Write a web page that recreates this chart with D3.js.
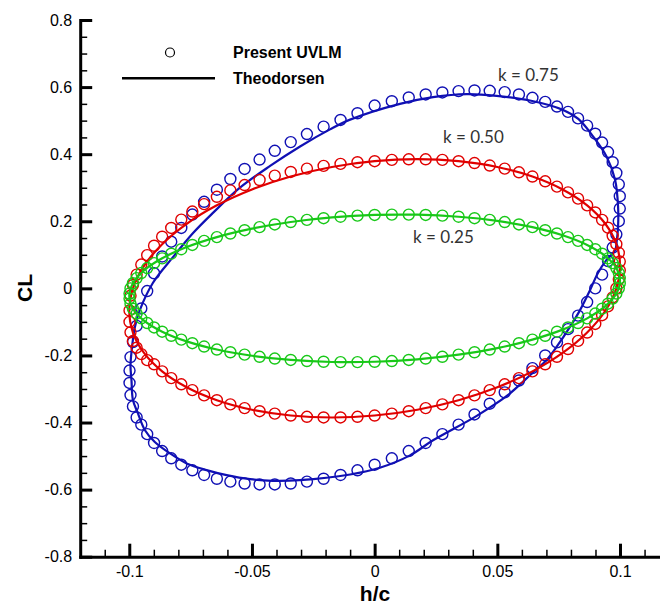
<!DOCTYPE html>
<html>
<head>
<meta charset="utf-8">
<script src="https://cdn.jsdelivr.net/npm/d3@7"></script>
<style>
  html, body { margin: 0; padding: 0; background: #fff; }
  svg { display: block; }
</style>
</head>
<body>
<svg id="chart" width="660" height="607"></svg>
<script>
// ---------------- DATA ----------------
const xTicks = [-0.1, -0.05, 0, 0.05, 0.1];
const xTickLabels = ["-0.1", "-0.05", "0", "0.05", "0.1"];
const yTicks = [-0.8, -0.6, -0.4, -0.2, 0, 0.2, 0.4, 0.6, 0.8];
const yTickLabels = ["-0.8", "-0.6", "-0.4", "-0.2", "0", "0.2", "0.4", "0.6", "0.8"];
const xMinorTicks = [-0.11, -0.09, -0.08, -0.07, -0.06, -0.04, -0.03, -0.02, -0.01, 0.01, 0.02, 0.03, 0.04, 0.06, 0.07, 0.08, 0.09, 0.11];
const yMinorTicks = [-0.75, -0.7, -0.65, -0.55, -0.5, -0.45, -0.35, -0.3, -0.25, -0.15, -0.1, -0.05, 0.05, 0.1, 0.15, 0.25, 0.3, 0.35, 0.45, 0.5, 0.55, 0.65, 0.7, 0.75];

const seriesNames = ["k = 0.75", "k = 0.50", "k = 0.25"];
const legendLabels = ["Present UVLM", "Theodorsen"];

// Present UVLM markers: h/c positions (shared by all three runs)
const markerH = [0, .0070, .0139, .0208, .0276, .0342, .0407, .0469, .0530, .0588, .0643, .0695, .0743, .0788, .0829, .0866, .0899, .0927, .0951, .0970, .0985, .0995, .0999, .0999, .0995, .0985, .0970, .0951, .0927, .0899, .0866, .0829, .0788, .0743, .0695, .0643, .0588, .0530, .0469, .0407, .0342, .0276, .0208, .0139, .0070,
  0, -.0070, -.0139, -.0208, -.0276, -.0342, -.0407, -.0469, -.0530, -.0588, -.0643, -.0695, -.0743, -.0788, -.0829, -.0866, -.0899, -.0927, -.0951, -.0970, -.0985, -.0995, -.0999, -.0999, -.0995, -.0985, -.0970, -.0951, -.0927, -.0899, -.0866, -.0829, -.0788, -.0743, -.0695, -.0643, -.0588, -.0530, -.0469, -.0407, -.0342, -.0276, -.0208, -.0139, -.0070];

const markerCL_k075 = [.545, .558, .569, .578, .584, .588, .590, .589, .585, .578, .568, .556,
  .542, .526, .5066, .4850, .4610, .4347, .4064, .3760, .3439, .3100, .2747, .2379, .2001, .1612, .1216, .0814, .0408,
  0,
  -.0408, -.0814, -.1216, -.1612, -.2001, -.2379, -.2747, -.3100, -.3439, -.3760, -.4064, -.4347, -.4610, -.4850, -.5066,
  -.5258, -.5424, -.5564, -.5676, -.5761, -.5818, -.5846, -.5846, -.5818, -.5761, -.5676, -.5564, -.5424, -.5258, -.5066, -.4850, -.4610, -.4347, -.4064,
  -.385, -.352, -.318, -.282, -.245, -.205, -.160, -.112, -.060, -.008, .045, .095, .139, .180, .220, .258, .294, .326, .356, .384, .410, .436, .460, .482, .502, .522];

const markerCL_k050 = [.3791, .3829, .3848, .3848, .3829, .3791, .3736, .3662, .3570, .3460, .3334, .3192, .3034, .2861, .2675, .2475, .2263, .2040, .1808, .1566, .1317, .1061, .0800, .0536, .0269, 0, -.0269, -.0536, -.0800, -.1061, -.1317, -.1566, -.1808, -.2040, -.2263, -.2475, -.2675, -.2861, -.3034, -.3192, -.3334, -.3460, -.3570, -.3662, -.3736,
  -.3791, -.3829, -.3848, -.3848, -.3829, -.3791, -.3736, -.3662, -.3570, -.3460, -.3334, -.3192, -.3034, -.2861, -.2675, -.2475, -.2263,
  -.214, -.196, -.177, -.157, -.131, -.100, -.066, -.022, .010, .041, .071, .099, .127, .154, .180, .205, .229, .251, .273, .292, .308, .323, .336, .347, .357, .365, .371, .376];

const markerCL_k025 = [.2188, .2199, .2199, .2188, .2167, .2135, .2092, .2040, .1977, .1905, .1824, .1734, .1635, .1528, .1414, .1293, .1166, .1033, .0895, .0752, .0606, .0457, .0306, .0154, 0, -.0154, -.0306, -.0457, -.0606, -.0752, -.0895, -.1033, -.1166, -.1293, -.1414, -.1528, -.1635, -.1734, -.1824, -.1905, -.1977, -.2040, -.2092, -.2135, -.2167,
  -.2188, -.2199, -.2199, -.2188, -.2167, -.2135, -.2092, -.2040, -.1977, -.1905, -.1824, -.1734, -.1635, -.1528, -.1414, -.1293, -.1166, -.1033, -.0895, -.0752, -.0606, -.0457, -.0306, -.0154, 0, .0154, .0306, .0457, .0606, .0752, .0895, .1033, .1166, .1293, .1414, .1528, .1635, .1734, .1824, .1905, .1977, .2040, .2092, .2135, .2167];

// Theodorsen curves
const theoH = [0, .0174, .0342, .05, .0643, .0766, .0866, .0940, .0985, .1, .0985, .0940, .0866, .0766, .0643, .05, .0342, .0174,
  0, -.0174, -.0342, -.05, -.0643, -.0766, -.0866, -.0940, -.0985, -.1, -.0985, -.0940, -.0866, -.0766, -.0643, -.05, -.0342, -.0174];
const theoCL_k050 = [.3791, .385, .3791, .3618, .3334, .2949, .2475, .1925, .1317, .0668, 0, -.0668, -.1317, -.1925, -.2475, -.2949, -.3334, -.3618,
  -.3791, -.385, -.3791, -.3618, -.3334, -.2949, -.2475, -.1925, -.1317, -.0668, 0, .0668, .1317, .1925, .2475, .2949, .3334, .3618];
const theoCL_k025 = [.2188, .2195, .2135, .2010, .1824, .1582, .1293, .0964, .0606, .0230, -.0154, -.0532, -.0895, -.1230, -.1528, -.1780, -.1977, -.2115,
  -.2188, -.2195, -.2135, -.2010, -.1824, -.1582, -.1293, -.0964, -.0606, -.0230, .0154, .0532, .0895, .1230, .1528, .1780, .1977, .2115];

const theoH_k075 = [-0.0991, -0.0995, -0.0991, -0.0977, -0.0957, -0.0904, -0.0822, -0.0740, -0.0659, -0.0549, -0.0426, -0.0304, -0.0182, -0.0100,
  0.0103, 0.0238, 0.0375, 0.0497, 0.0633, 0.0768, 0.0830, 0.0890, 0.0945, 0.0980, 0.0992, 0.0992, 0.0987, 0.0980,
  0.0945, 0.0910, 0.0878, 0.0837, 0.0796, 0.0742, 0.0700, 0.0646, 0.0540, 0.0416, 0.0238, 0.0144, 0.0021,
  -0.0100, -0.0305, -0.0415, -0.0508, -0.0603, -0.0685, -0.0766, -0.0834, -0.0896, -0.0936, -0.0965, -0.0985];
const theoCL_k075 = [-0.274, -0.232, -0.190, -0.115, -0.065, 0.016, 0.093, 0.165, 0.225, 0.300, 0.365, 0.423, 0.474, 0.503,
  0.550, 0.570, 0.579, 0.574, 0.560, 0.532, 0.505, 0.453, 0.393, 0.323, 0.244, 0.184, 0.144, 0.114,
  0.085, 0.046, -0.005, -0.065, -0.115, -0.174, -0.214, -0.250, -0.320, -0.380, -0.453, -0.498, -0.535,
  -0.555, -0.572, -0.574, -0.569, -0.557, -0.542, -0.522, -0.492, -0.458, -0.423, -0.372, -0.333];

const seriesColors = ["#1010b4", "#e00000", "#18c818"];

// ---------------- CHART ----------------
const series = [
  { name: seriesNames[0], color: seriesColors[0], lh: theoH_k075, lc: theoCL_k075, mh: markerH, mc: markerCL_k075 },
  { name: seriesNames[1], color: seriesColors[1], lh: theoH, lc: theoCL_k050, mh: markerH, mc: markerCL_k050 },
  { name: seriesNames[2], color: seriesColors[2], lh: theoH, lc: theoCL_k025, mh: markerH, mc: markerCL_k025 }
];

const svg = d3.select("#chart");
const x = d3.scaleLinear().domain([-0.12, 0.12]).range([80.2, 669.1]);
const y = d3.scaleLinear().domain([-0.8, 0.8]).range([556.7, 20]);
const font = "'Liberation Sans', Arial, Helvetica, sans-serif";

// axes
const gx = svg.append("g").attr("transform", `translate(0,${y(-0.8)})`);
gx.call(d3.axisBottom(x).tickValues(xMinorTicks).tickSize(-7).tickFormat(""))
  .call(g => g.select(".domain").remove())
  .call(g => g.selectAll("line").attr("stroke", "#000").attr("stroke-width", 1.5));
const gx2 = svg.append("g").attr("transform", `translate(0,${y(-0.8)})`);
gx2.call(d3.axisBottom(x).tickValues(xTicks).tickSize(-13).tickSizeOuter(0).tickPadding(9)
    .tickFormat((d, i) => xTickLabels[i]))
  .call(g => g.select(".domain").attr("stroke", "#000").attr("stroke-width", 3).attr("stroke-linecap", "square"))
  .call(g => g.selectAll(".tick line").attr("stroke", "#000").attr("stroke-width", 3))
  .call(g => g.selectAll("text").attr("font-family", font).attr("font-size", 16).attr("fill", "#000"));

const gy = svg.append("g").attr("transform", `translate(${x(-0.12)},0)`);
gy.call(d3.axisLeft(y).tickValues(yMinorTicks).tickSize(-7).tickFormat(""))
  .call(g => g.select(".domain").remove())
  .call(g => g.selectAll("line").attr("stroke", "#000").attr("stroke-width", 1.5));
const gy2 = svg.append("g").attr("transform", `translate(${x(-0.12)},0)`);
gy2.call(d3.axisLeft(y).tickValues(yTicks).tickSize(-12).tickSizeOuter(0).tickPadding(8)
    .tickFormat((d, i) => yTickLabels[i]))
  .call(g => g.select(".domain").attr("stroke", "#000").attr("stroke-width", 3).attr("stroke-linecap", "square"))
  .call(g => g.selectAll(".tick line").attr("stroke", "#000").attr("stroke-width", 3))
  .call(g => g.selectAll("text").attr("font-family", font).attr("font-size", 16).attr("fill", "#000"));

// axis titles
svg.append("text").attr("x", 375).attr("y", 601).attr("text-anchor", "middle")
  .attr("font-family", font).attr("font-weight", "bold").attr("font-size", 21).text("h/c");
svg.append("text").attr("transform", `translate(32,288) rotate(-90)`).attr("text-anchor", "middle")
  .attr("font-family", font).attr("font-weight", "bold").attr("font-size", 21).text("CL");

// curves
const line = d3.line().x(d => x(d[0])).y(d => y(d[1])).curve(d3.curveCatmullRomClosed.alpha(0.5));
const plot = svg.append("g");
series.forEach(s => {
  const lpts = s.lh.map((h, i) => [h, s.lc[i]]);
  const mpts = s.mh.map((h, i) => [h, s.mc[i]]);
  plot.append("path").datum(lpts).attr("d", line).attr("fill", "none")
    .attr("stroke", s.color).attr("stroke-width", 2.2);
  plot.append("g").selectAll("circle").data(mpts).join("circle")
    .attr("cx", d => x(d[0])).attr("cy", d => y(d[1])).attr("r", 5.5)
    .attr("fill", "none").attr("stroke", s.color).attr("stroke-width", 1.4);
});

// annotations
const annoFont = "Lato, 'Open Sans', sans-serif";
const annoPos = [[498, 81], [443, 143], [413, 243]];
series.forEach((s, i) => {
  svg.append("text").attr("x", annoPos[i][0]).attr("y", annoPos[i][1])
    .attr("font-family", annoFont).attr("font-size", 17).attr("fill", "#333").text(s.name);
});

// legend
svg.append("circle").attr("cx", 170).attr("cy", 52.5).attr("r", 4.5)
  .attr("fill", "none").attr("stroke", "#000").attr("stroke-width", 1.2);
svg.append("line").attr("x1", 122).attr("x2", 215).attr("y1", 78.3).attr("y2", 78.3)
  .attr("stroke", "#000").attr("stroke-width", 2.5);
svg.append("text").attr("x", 233).attr("y", 57.5).attr("font-family", font).attr("font-weight", "bold")
  .attr("font-size", 16).text(legendLabels[0]);
svg.append("text").attr("x", 233).attr("y", 83.5).attr("font-family", font).attr("font-weight", "bold")
  .attr("font-size", 16).text(legendLabels[1]);
</script>
</body>
</html>
